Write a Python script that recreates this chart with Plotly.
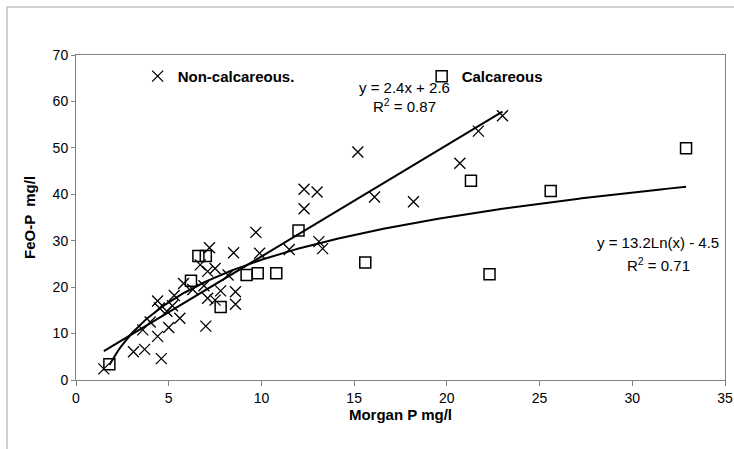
import numpy as np
import plotly.graph_objects as go

# Non-calcareous soils
nc_x = [1.5, 3.1, 3.7, 4.6, 3.6, 4.4, 5.0, 5.6, 4.4, 4.9, 5.3, 5.2, 5.8, 6.7, 7.1, 7.5,
        8.2, 6.9, 7.8, 8.6, 8.6, 7.1, 7.5, 7.0, 7.2, 8.5, 9.7, 9.9, 11.5, 12.3, 13.0,
        12.3, 13.1, 13.3, 15.2, 16.1, 18.2, 20.7, 21.7, 23.0, 4.5, 6.3, 4.0]
nc_y = [2.4, 6.1, 6.6, 4.6, 10.8, 9.4, 11.3, 13.3, 17.0, 14.8, 18.2, 16.0, 20.8, 24.8,
        23.4, 24.0, 22.6, 20.3, 19.2, 19.0, 16.3, 17.6, 17.2, 11.6, 28.5, 27.4, 31.8,
        27.3, 28.1, 41.1, 40.5, 36.9, 29.8, 28.3, 49.1, 39.4, 38.4, 46.7, 53.6, 56.9,
        15.5, 19.5, 12.5]

# Calcareous soils
c_x = [1.8, 6.6, 7.0, 6.2, 9.2, 9.8, 10.8, 7.8, 12.0, 15.6, 22.3, 21.3, 25.6, 32.9]
c_y = [3.4, 26.7, 26.7, 21.4, 22.6, 23.0, 23.0, 15.7, 32.2, 25.3, 22.8, 42.9, 40.7, 49.9]

# Trendline coefficients (as printed on the chart)
lin_slope, lin_int = 2.4, 2.6
log_a, log_b = 13.2, -4.5

x_ticks = [0, 5, 10, 15, 20, 25, 30, 35]
y_ticks = [0, 10, 20, 30, 40, 50, 60, 70]

font_family = "Liberation Sans, Arial, sans-serif"

lx = np.linspace(min(nc_x), max(nc_x), 100)
ly = lin_slope * lx + lin_int
gx = np.linspace(min(c_x), max(c_x), 200)
gy = log_a * np.log(gx) + log_b

fig = go.Figure()
fig.add_trace(go.Scatter(x=lx, y=ly, mode="lines", line=dict(color="black", width=2),
                         showlegend=False, hoverinfo="skip"))
fig.add_trace(go.Scatter(x=gx, y=gy, mode="lines", line=dict(color="black", width=2),
                         showlegend=False, hoverinfo="skip"))
fig.add_trace(go.Scatter(x=nc_x, y=nc_y, mode="markers", name="Non-calcareous.",
                         marker=dict(symbol="x-thin-open", size=11, color="black",
                                     line=dict(color="black", width=1.3))))
fig.add_trace(go.Scatter(x=c_x, y=c_y, mode="markers", name="Calcareous",
                         marker=dict(symbol="square-open", size=11, color="black",
                                     line=dict(color="black", width=1.5))))

ann_font = dict(family=font_family, size=15, color="black")
fig.add_annotation(x=17.74, y=63.1, text="y = 2.4x + 2.6", showarrow=False, font=ann_font)
fig.add_annotation(x=17.74, y=59.2, text="R<sup>2</sup> = 0.87", showarrow=False, font=ann_font)
fig.add_annotation(x=31.4, y=29.7, text="y = 13.2Ln(x) - 4.5", showarrow=False, font=ann_font)
fig.add_annotation(x=31.4, y=24.8, text="R<sup>2</sup> = 0.71", showarrow=False, font=ann_font)

# outer chart-area border
fig.add_shape(type="rect", xref="paper", yref="paper", x0=-0.1063, x1=1.03,
              y0=-0.25, y1=1.1477, line=dict(color="#a0a0a0", width=1), layer="below")

fig.update_layout(
    width=734, height=449,
    margin=dict(l=76, r=9, t=55, b=69),
    paper_bgcolor="white", plot_bgcolor="white",
    font=dict(family=font_family, size=14, color="black"),
    legend=dict(orientation="h", x=0.095, y=0.985, xanchor="left", yanchor="top",
                bgcolor="rgba(0,0,0,0)", entrywidth=239, entrywidthmode="pixels",
                font=dict(family=font_family, size=15, color="black", weight="bold"),
                itemsizing="trace"),
    xaxis=dict(range=[0, 35], tickvals=x_ticks, showgrid=False, zeroline=False,
               showline=True, linecolor="#808080", linewidth=1, mirror=True,
               ticks="outside", ticklen=5, tickcolor="#808080", automargin=False,
               tickfont=dict(size=14),
               title=dict(text="<b>Morgan P mg/l</b>", standoff=3, font=dict(size=15))),
    yaxis=dict(range=[0, 70], tickvals=y_ticks, showgrid=False, zeroline=False,
               showline=True, linecolor="#808080", linewidth=1, mirror=True,
               ticks="outside", ticklen=4, tickcolor="#808080", automargin=False,
               tickfont=dict(size=14),
               title=dict(text="<b>FeO-P  mg/l</b>", standoff=13, font=dict(size=15))),
)

fig.write_html("out.html", config={"displayModeBar": False},
               post_script="document.body.style.margin='0px';")
